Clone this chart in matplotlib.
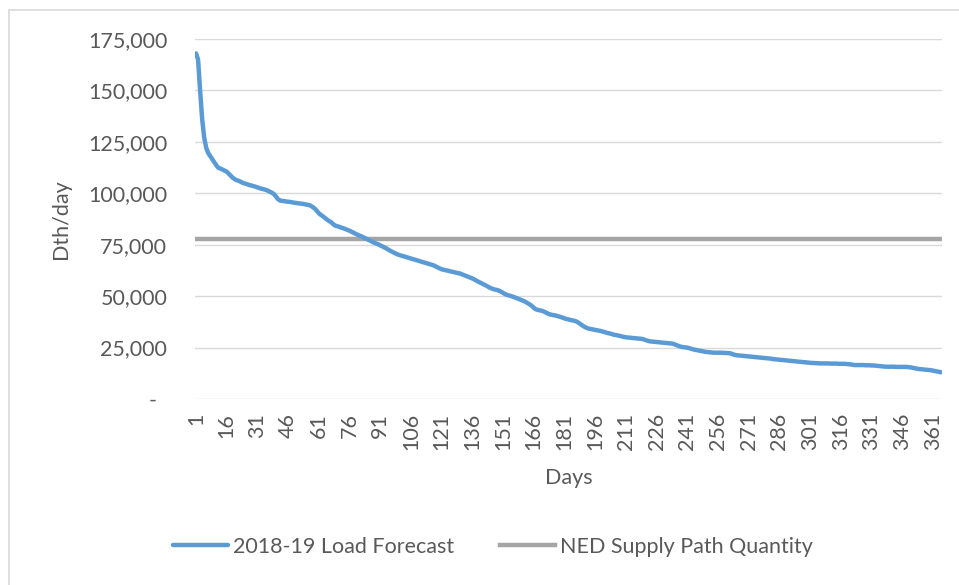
import matplotlib
matplotlib.use("Agg")
import matplotlib.pyplot as plt
import matplotlib.patches as patches
from matplotlib.transforms import ScaledTranslation
from matplotlib.ticker import FuncFormatter

load_forecast = [
    168000, 165000, 150000, 136000, 127000, 122000, 119500, 118000, 116500, 115000, 113500, 112300, 112000, 111500, 111000,
    110500, 109500, 108500, 107500, 106800, 106300, 106000, 105500, 105000, 104700, 104400, 104000, 103800, 103500, 103200,
    102900, 102500, 102200, 102000, 101700, 101300, 100800, 100300, 99700, 98500, 97200, 96500, 96300, 96200, 96000,
    95900, 95800, 95600, 95400, 95300, 95100, 95000, 94900, 94700, 94500, 94300, 94000, 93300, 92600, 91500,
    90300, 89500, 88800, 88000, 87200, 86500, 86000, 85000, 84300, 84000, 83700, 83300, 83000, 82600, 82200,
    81800, 81300, 80800, 80300, 79800, 79400, 79000, 78500, 78000, 77500, 77000, 76500, 76000, 75600, 75200,
    74700, 74200, 73700, 73200, 72600, 72000, 71500, 71000, 70500, 70100, 69800, 69500, 69200, 68900, 68600,
    68300, 68000, 67700, 67400, 67100, 66800, 66500, 66200, 65900, 65600, 65300, 65000, 64500, 64000, 63500,
    63100, 62800, 62600, 62400, 62100, 61900, 61700, 61400, 61200, 61000, 60600, 60200, 59800, 59400, 59000,
    58600, 58100, 57500, 57000, 56500, 56000, 55500, 55000, 54400, 53900, 53500, 53200, 53000, 52700, 52200,
    51600, 51000, 50600, 50300, 50000, 49700, 49300, 48900, 48500, 48100, 47700, 47200, 46600, 46000, 45300,
    44400, 43600, 43300, 43100, 42900, 42500, 42000, 41500, 41100, 40900, 40700, 40500, 40200, 39900, 39600,
    39200, 38900, 38700, 38400, 38200, 38000, 37600, 37000, 36300, 35600, 35000, 34500, 34200, 34000, 33800,
    33600, 33400, 33200, 33000, 32700, 32400, 32100, 31900, 31600, 31300, 31100, 30900, 30700, 30400, 30200,
    30000, 29900, 29800, 29700, 29600, 29500, 29400, 29300, 29200, 28900, 28500, 28200, 28000, 27900, 27800,
    27700, 27600, 27500, 27400, 27300, 27200, 27100, 27000, 26900, 26500, 26100, 25700, 25400, 25200, 25100,
    25000, 24700, 24400, 24100, 23900, 23700, 23500, 23300, 23100, 22900, 22800, 22700, 22600, 22500, 22500,
    22500, 22500, 22500, 22400, 22400, 22300, 22200, 21900, 21500, 21300, 21200, 21100, 21000, 20900, 20800,
    20700, 20600, 20500, 20400, 20300, 20200, 20100, 20000, 19900, 19800, 19700, 19600, 19400, 19300, 19200,
    19100, 19000, 18900, 18800, 18700, 18600, 18500, 18400, 18300, 18200, 18100, 18000, 17900, 17800, 17700,
    17600, 17500, 17500, 17400, 17400, 17300, 17300, 17300, 17300, 17300, 17200, 17200, 17200, 17200, 17100,
    17100, 17100, 17100, 17000, 16900, 16800, 16600, 16500, 16500, 16500, 16500, 16500, 16400, 16400, 16400,
    16300, 16300, 16200, 16100, 16000, 15900, 15800, 15700, 15700, 15700, 15700, 15700, 15600, 15600, 15600,
    15600, 15600, 15600, 15500, 15400, 15200, 15000, 14800, 14600, 14500, 14400, 14300, 14200, 14100, 14000,
    13800, 13600, 13400, 13200, 13000,
]
days = list(range(1, len(load_forecast) + 1))
ned_supply_level = 78000
ned_supply = [ned_supply_level] * len(days)
x_tick_days = list(range(1, 366, 15))
y_ticks = [0, 25000, 50000, 75000, 100000, 125000, 150000, 175000]

TEXT = "#595959"
FONT = "Lato"
FS = 15.5

fig = plt.figure(figsize=(9.59, 5.85), dpi=100)
ax = fig.add_axes([195/959, 1-399/585, (942-195)/959, (399-39)/585])

ax.plot(days, load_forecast, color="#5B9BD5", lw=3.2, label="2018-19 Load Forecast",
        solid_capstyle="round", zorder=3)
ax.plot(days, ned_supply, color="#A5A5A5", lw=3.2, label="NED Supply Path Quantity", zorder=2)

ax.set_xlim(0.5, len(days) + 0.5)
ax.set_ylim(0, 175000)
ax.set_yticks(y_ticks)
ax.yaxis.set_major_formatter(FuncFormatter(lambda v, p: "-" if v == 0 else f"{int(v):,}"))
ax.set_xticks(x_tick_days)
ax.set_xticklabels([str(d) for d in x_tick_days], rotation=90, va="top", ha="center")

ax.grid(axis="y", color="#D9D9D9", lw=1)
ax.set_axisbelow(True)
for s in ax.spines.values():
    s.set_visible(False)
ax.tick_params(axis="both", length=0, colors=TEXT, labelsize=FS)
ax.tick_params(axis="y", pad=20)
ax.tick_params(axis="x", pad=10)
for lab in ax.get_xticklabels() + ax.get_yticklabels():
    lab.set_fontfamily(FONT)

# shift the "-" zero label like Excel's accounting format
fig.canvas.draw()
ylabs = ax.get_yticklabels()
ylabs[0].set_transform(ylabs[0].get_transform() + ScaledTranslation(-11/100, 0, fig.dpi_scale_trans))

ax.set_ylabel("Dth/day", color=TEXT, fontsize=FS, fontfamily=FONT)
ax.yaxis.set_label_coords((71-195)/747, 0.5)
ax.set_xlabel("Days", color=TEXT, fontsize=FS, fontfamily=FONT)
ax.xaxis.set_label_coords(0.5, -0.192)

leg = fig.legend(loc="center", bbox_to_anchor=(493/959, 1-547/585), ncol=2, frameon=False,
                 prop={"family": FONT, "size": FS}, handlelength=2.55, columnspacing=2.1,
                 handletextpad=0.25)
for t in leg.get_texts():
    t.set_color(TEXT)

border = patches.Rectangle((9/959, -0.1), 1.2, 1.1 - 10/585, transform=fig.transFigure,
                           fill=False, edgecolor="#D9D9D9", lw=1.2)
fig.patches.append(border)

fig.savefig("out.png", dpi=100)
